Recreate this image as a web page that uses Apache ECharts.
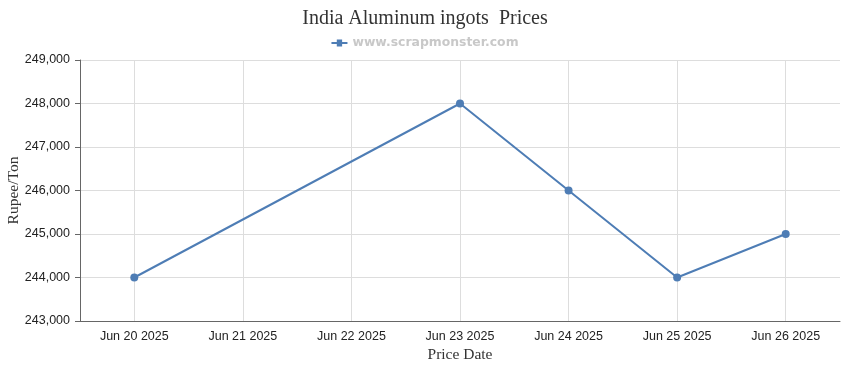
<!DOCTYPE html>
<html><head><meta charset="utf-8">
<script src="https://cdn.jsdelivr.net/npm/echarts@6/dist/echarts.min.js"></script>
<style>html,body{margin:0;padding:0;background:#fff}#c{width:850px;height:370px}</style>
</head><body><div id="c"></div>
<script>
var categories = ['Jun 20 2025','Jun 21 2025','Jun 22 2025','Jun 23 2025','Jun 24 2025','Jun 25 2025','Jun 26 2025'];
var prices = [244000, null, null, 248000, 246000, 244000, 245000];
var yTicks = {min: 243000, max: 249000, interval: 1000};

var chart = echarts.init(document.getElementById('c'), null, {renderer: 'canvas'});
chart.setOption({
  animation: false,
  title: {
    text: 'India Aluminum ingots  Prices',
    left: 'center', top: 4,
    textStyle: {fontFamily: 'Liberation Serif, serif', fontSize: 20, fontWeight: 'normal', color: '#333'}
  },
  legend: {
    top: 32, left: 'center',
    data: [{name: 'www.scrapmonster.com', icon: 'path://M0,4 L6,4 L6,1 L12,1 L12,4 L18,4 L18,6 L12,6 L12,9 L6,9 L6,6 L0,6 Z'}],
    itemWidth: 16, itemHeight: 8, itemGap: 5,
    textStyle: {fontFamily: 'DejaVu Sans, sans-serif', fontSize: 12.4, fontWeight: 'bold', color: '#c8c8c8'}
  },
  grid: {left: 80, right: 10, top: 60, bottom: 49, containLabel: false, outerBoundsMode: 'none'},
  xAxis: {
    type: 'category',
    data: categories,
    boundaryGap: true,
    name: 'Price Date', nameLocation: 'middle', nameGap: 26, nameMoveOverlap: false,
    nameTextStyle: {fontFamily: 'Liberation Serif, serif', fontSize: 15.5, color: '#333'},
    axisLine: {lineStyle: {color: '#666'}},
    axisTick: {alignWithLabel: true, length: 5, lineStyle: {color: '#666'}},
    axisLabel: {fontFamily: 'Liberation Sans, sans-serif', fontSize: 12.5, color: '#222', margin: 9},
    splitLine: {show: true, alignWithLabel: true, lineStyle: {color: '#ddd'}}
  },
  yAxis: {
    type: 'value',
    min: yTicks.min, max: yTicks.max, interval: yTicks.interval,
    name: 'Rupee/Ton', nameLocation: 'middle', nameGap: 58, nameMoveOverlap: false,
    nameTextStyle: {fontFamily: 'Liberation Serif, serif', fontSize: 15.5, color: '#333'},
    axisLine: {show: true, lineStyle: {color: '#666'}},
    axisTick: {show: true, length: 5, lineStyle: {color: '#666'}},
    axisLabel: {fontFamily: 'Liberation Sans, sans-serif', fontSize: 12.5, color: '#222', margin: 10,
      formatter: function(v){ return v.toLocaleString('en-US'); }},
    splitLine: {show: true, lineStyle: {color: '#ddd'}}
  },
  series: [{
    name: 'www.scrapmonster.com',
    type: 'line',
    data: prices,
    connectNulls: true,
    symbol: 'circle', symbolSize: 8,
    itemStyle: {color: '#4e7db5'},
    lineStyle: {width: 2, color: '#4e7db5'}
  }]
});
</script></body></html>
